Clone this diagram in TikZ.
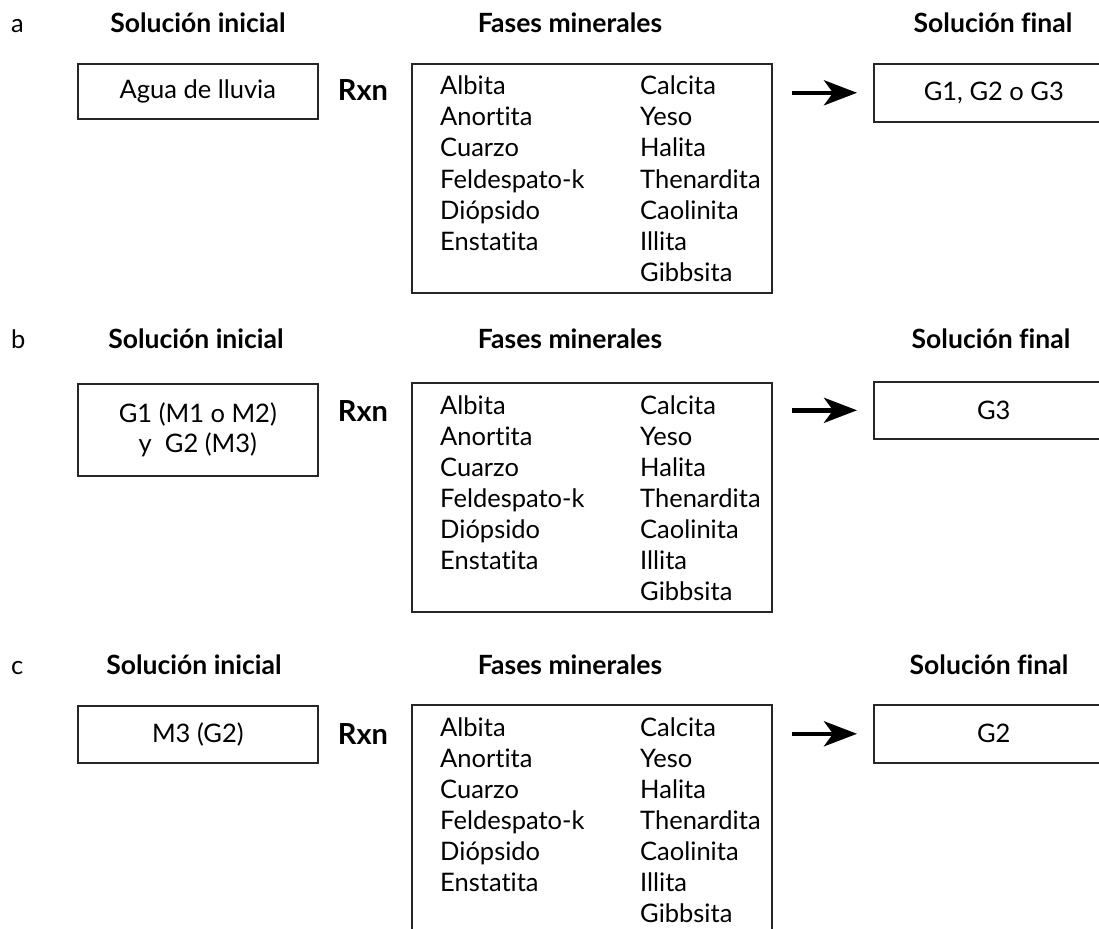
\documentclass[tikz,border=0pt]{standalone}
\usepackage{fontspec}
\setmainfont[Ligatures=NoCommon]{Lato}
\usetikzlibrary{arrows.meta}

\newcommand{\tamano}{\fontsize{25.5}{30}\selectfont}
% caja de fases minerales: #1 nombre, #2 borde superior
\newcommand{\fases}[2]{%
  \node[caja, minimum width=360pt, minimum height=229pt] (#1) at (411,#2) {};
  \foreach \m [count=\i from 0] in {Albita,Anortita,Cuarzo,Feldespato-k,Diópsido,Enstatita}
    \node[mineral] at (440,{#2+32+31*\i}) {\m};
  \foreach \m [count=\i from 0] in {Calcita,Yeso,Halita,Thenardita,Caolinita,Illita,Gibbsita}
    \node[mineral] at (640,{#2+32+31*\i}) {\m};
}

\begin{document}
\begin{tikzpicture}[x=1pt,y=-1pt,
    caja/.style={draw=black!85,line width=1.6pt,inner sep=0pt,anchor=north west,
      align=center,font=\tamano,minimum width=240pt},
    mineral/.style={anchor=base west,inner sep=0pt,font=\tamano},
    titulo/.style={anchor=base,inner sep=0pt,font=\fontsize{26.5}{30}\selectfont\bfseries},
    rxn/.style={anchor=base,inner sep=0pt,font=\fontsize{29}{30}\selectfont\bfseries},
    letra/.style={anchor=base west,inner sep=0pt,font=\tamano},
    flecha/.style={line width=4.5pt,-{Stealth[length=33pt,width=25pt,inset=9pt]}}]
    \clip (0,0) rectangle (1099,928);
    %\draw[red] (0,0) grid[step=100] (1099,928);

    % a
    \node[letra] (la) at (11,33) {a};
    \node[titulo] (tiA) at (198,33) {Solución inicial};
    \node[titulo] (tfA) at (570,33) {Fases minerales};
    \node[titulo] (tsA) at (993,33) {Solución final};
    \node[caja,minimum height=55pt] (iniA) at (77,63) {Agua de lluvia};
    \node[rxn] (rxnA) at (363,101) {Rxn};
    \fases{minA}{63}
    \node[caja,minimum height=58pt] (finA) at (873,63) {G1, G2 o G3};
    \draw[flecha] ([xshift=19pt]minA.east |- finA.west) -- ([xshift=-16pt]finA.west);

    % b
    \node[letra] (lb) at (11,348) {b};
    \node[titulo] (tiB) at (196,348) {Solución inicial};
    \node[titulo] (tfB) at (570,348) {Fases minerales};
    \node[titulo] (tsB) at (991,348) {Solución final};
    \node[caja,minimum height=92pt] (iniB) at (77,383) {G1 (M1 o M2)\\ y~~G2 (M3)};
    \node[rxn] (rxnB) at (363,421) {Rxn};
    \fases{minB}{382}
    \node[caja,minimum height=57pt] (finB) at (873,381) {G3};
    \draw[flecha] ([xshift=19pt]minB.east |- finB.west) -- ([xshift=-16pt]finB.west);

    % c
    \node[letra] (lc) at (11,674) {c};
    \node[titulo] (tiC) at (194,674) {Solución inicial};
    \node[titulo] (tfC) at (570,674) {Fases minerales};
    \node[titulo] (tsC) at (989,674) {Solución final};
    \node[caja,minimum height=57pt] (iniC) at (77,705) {M3 (G2)};
    \node[rxn] (rxnC) at (363,744) {Rxn};
    \fases{minC}{704}
    \node[caja,minimum height=58pt] (finC) at (873,704) {G2};
    \draw[flecha] ([xshift=19pt]minC.east |- finC.west) -- ([xshift=-16pt]finC.west);
\end{tikzpicture}
\end{document}
